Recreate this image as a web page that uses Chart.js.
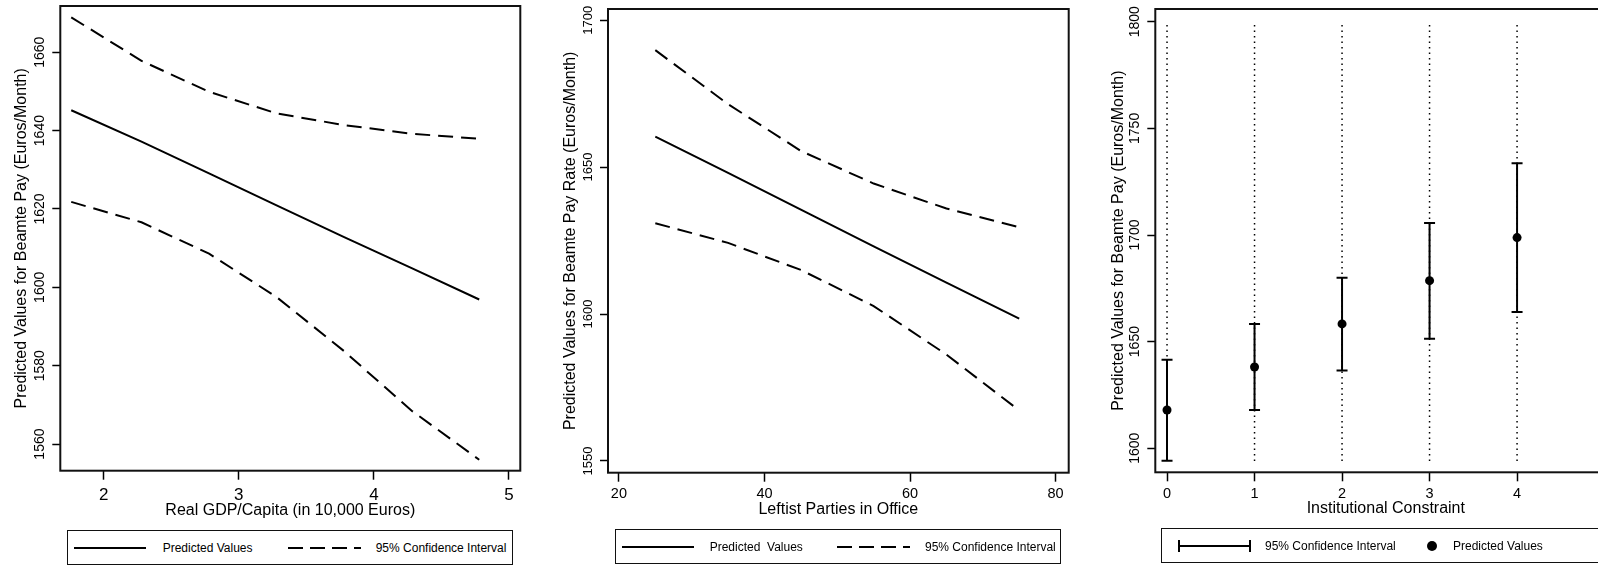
<!DOCTYPE html>
<html>
<head>
<meta charset="utf-8">
<title>Predicted Beamte Pay</title>
<script src="https://cdn.jsdelivr.net/npm/chart.js@4.4.1/dist/chart.umd.min.js"></script>
<style>
  body { margin: 0; width: 1598px; height: 565px; overflow: hidden; background: #fff; position: relative;
         font-family: "Liberation Sans", Arial, sans-serif; color: #000; }
  canvas { position: absolute; top: 0; }
  .legend { position: absolute; box-sizing: border-box; border: 1.5px solid #111; background: #fff; height: 35px; }
  .legend span { position: absolute; top: 9.5px; font-size: 12px; line-height: 14px; white-space: pre; }
  .solid, .dashed { position: absolute; top: 16px; height: 2px; }
  .solid { background: #000; }
  .dashed { background: repeating-linear-gradient(to right, #000 0 15px, transparent 15px 22px); }
  .ebar { position: absolute; top: 11px; height: 12px; box-sizing: border-box; border-left: 2px solid #000; border-right: 2px solid #000; }
  .ebar::after { content: ""; position: absolute; left: 0; right: 0; top: 5px; height: 2px; background: #000; }
  .dot { position: absolute; top: 12px; width: 10px; height: 10px; border-radius: 50%; background: #000; }
</style>
</head>
<body>
<canvas id="gdpChart" width="530" height="565" style="left:0"></canvas>
<canvas id="leftChart" width="540" height="565" style="left:530px"></canvas>
<canvas id="conChart" width="560" height="565" style="left:1070px"></canvas>

<div class="legend" style="left:66.7px; top:530px; width:446.6px">
  <div class="solid" style="left:6.8px; width:72px"></div><span style="left:95px">Predicted Values</span>
  <div class="dashed" style="left:220.8px; width:72.7px"></div><span style="left:308px">95% Confidence Interval</span>
</div>
<div class="legend" style="left:614.5px; top:529px; width:446.5px">
  <div class="solid" style="left:6px; width:72.6px"></div><span style="left:94.2px">Predicted  Values</span>
  <div class="dashed" style="left:221.6px; width:72.7px"></div><span style="left:309.5px">95% Confidence Interval</span>
</div>
<div class="legend" style="left:1161px; top:528px; width:460px">
  <div class="ebar" style="left:16.3px; width:73px"></div><span style="left:103px">95% Confidence Interval</span>
  <div class="dot" style="left:265px"></div><span style="left:291px">Predicted Values</span>
</div>

<script>
const FONT = '"Liberation Sans", Arial, sans-serif';

// panel 1: real GDP per capita
const gdp = [1.76, 2.28, 2.78, 3.28, 3.78, 4.28, 4.78];
const gdpPred = [1645.2, 1637.2, 1629.1, 1620.9, 1612.8, 1604.9, 1596.9];
const gdpUpper = [1668.9, 1657.8, 1649.9, 1644.4, 1641.4, 1639.2, 1637.9];
const gdpLower = [1621.8, 1616.6, 1608.6, 1597.5, 1583.7, 1568.5, 1556.0];
const gdpXTicks = [2, 3, 4, 5];
const gdpYTicks = [1560, 1580, 1600, 1620, 1640, 1660];

// panel 2: leftist parties in office
const leftist = [25, 35, 45, 55, 65, 75];
const leftPred = [1660.4, 1648.0, 1635.5, 1623.0, 1610.7, 1598.4];
const leftUpper = [1689.8, 1671.4, 1655.5, 1644.4, 1635.9, 1629.5];
const leftLower = [1630.9, 1624.2, 1615.0, 1602.7, 1586.2, 1567.2];
const leftXTicks = [20, 40, 60, 80];
const leftYTicks = [1550, 1600, 1650, 1700];

// panel 3: institutional constraint
const constraint = [0, 1, 2, 3, 4];
const conPred = [1617.9, 1638.1, 1658.3, 1678.6, 1698.8];
const conUpper = [1641.5, 1658.3, 1679.9, 1705.6, 1733.6];
const conLower = [1594.1, 1617.9, 1636.4, 1651.3, 1663.9];
const guideSpan = [1594, 1800];
const conXTicks = [0, 1, 2, 3, 4];
const conYTicks = [1600, 1650, 1700, 1750, 1800];

const pts = (xs, ys) => xs.map((x, i) => ({ x: x, y: ys[i] }));
const spans = (xs, lo, hi) =>
  xs.flatMap((x, i) => [{ x: x, y: lo[i] }, { x: x, y: hi[i] }, { x: x, y: null }]);

// box around the plot + y tick labels turned on their side (Stata style)
const framePlugin = {
  id: "frame",
  afterDraw(chart, args, opts) {
    const { ctx, chartArea: a } = chart;
    const y = chart.scales.y;
    ctx.save();
    ctx.lineWidth = 2;
    ctx.strokeStyle = "#111";
    ctx.strokeRect(a.left, a.top, a.right - a.left, a.bottom - a.top);
    ctx.fillStyle = "#000";
    ctx.font = opts.size + "px " + FONT;
    ctx.textAlign = "center";
    ctx.textBaseline = "middle";
    y.ticks.forEach((t) => {
      ctx.save();
      ctx.translate(a.left - 20, y.getPixelForValue(t.value));
      ctx.rotate(-Math.PI / 2);
      ctx.fillText(String(t.value), 0, 0);
      ctx.restore();
    });
    ctx.restore();
  },
};

function makeChart(id, p, datasets) {
  const H = 565;
  const ctx = document.getElementById(id).getContext("2d");
  return new Chart(ctx, {
    type: "line",
    data: { datasets: datasets },
    plugins: [framePlugin],
    options: {
      responsive: false,
      animation: false,
      events: [],
      layout: { padding: { left: 0, top: p.top, right: p.right, bottom: 0 } },
      plugins: {
        legend: { display: false },
        tooltip: { enabled: false },
        frame: { size: p.yTickSize },
      },
      scales: {
        x: {
          type: "linear",
          min: p.xMin,
          max: p.xMax,
          afterBuildTicks: (s) => { s.ticks = p.xTicks.map((v) => ({ value: v })); },
          afterFit: (s) => { s.height = H - p.bottom; },
          border: { display: false },
          grid: { drawOnChartArea: false, tickLength: 9, tickColor: "#000", tickWidth: 1.5 },
          ticks: {
            color: "#000",
            autoSkip: false,
            maxRotation: 0,
            padding: p.xTickPad,
            font: { family: FONT, size: p.xTickSize },
            callback: (v) => String(v),
          },
          title: {
            display: true,
            text: p.xTitle,
            color: "#000",
            font: { family: FONT, size: 16 },
            padding: { top: 0, bottom: H - p.xTitleY - 16 * 0.6 },
          },
        },
        y: {
          type: "linear",
          min: p.yMin,
          max: p.yMax,
          afterBuildTicks: (s) => { s.ticks = p.yTicks.map((v) => ({ value: v })); },
          afterFit: (s) => { s.width = p.left; },
          border: { display: false },
          grid: { drawOnChartArea: false, tickLength: 8, tickColor: "#000", tickWidth: 1.5 },
          ticks: { display: false },
          title: {
            display: true,
            text: p.yTitle,
            color: "#000",
            font: { family: FONT, size: 16 },
            padding: { top: p.yTitleX - 16 * 0.6, bottom: 0 },
          },
        },
      },
    },
  });
}

const solid = { borderColor: "#000", borderWidth: 2, pointRadius: 0, tension: 0, fill: false };
const dashed = Object.assign({}, solid, { borderDash: [15, 8] });

makeChart("gdpChart", {
  left: 60.3, right: 9.7, top: 6, bottom: 470.7,
  xMin: 1.679, xMax: 5.084, yMin: 1553.2, yMax: 1671.8,
  xTicks: gdpXTicks, yTicks: gdpYTicks,
  xTickSize: 17, xTickPad: 5, yTickSize: 14,
  xTitle: "Real GDP/Capita (in 10,000 Euros)", xTitleY: 511,
  yTitle: "Predicted Values for Beamte Pay (Euros/Month)", yTitleX: 22,
}, [
  Object.assign({ label: "Predicted Values", data: pts(gdp, gdpPred) }, solid),
  Object.assign({ label: "95% Confidence Interval", data: pts(gdp, gdpUpper) }, dashed),
  Object.assign({ label: "95% Confidence Interval", data: pts(gdp, gdpLower) }, dashed),
]);

makeChart("leftChart", {
  left: 78, right: 1.3, top: 9, bottom: 472.7,
  xMin: 18.5, xMax: 81.8, yMin: 1546.0, yMax: 1703.8,
  xTicks: leftXTicks, yTicks: leftYTicks,
  xTickSize: 14.5, xTickPad: 3.6, yTickSize: 13,
  xTitle: "Leftist Parties in Office", xTitleY: 510,
  yTitle: "Predicted Values for Beamte Pay Rate (Euros/Month)", yTitleX: 40.6,
}, [
  Object.assign({ label: "Predicted  Values", data: pts(leftist, leftPred) }, solid),
  Object.assign({ label: "95% Confidence Interval", data: pts(leftist, leftUpper) }, dashed),
  Object.assign({ label: "95% Confidence Interval", data: pts(leftist, leftLower) }, dashed),
]);

makeChart("conChart", {
  left: 85.3, right: 13.7, top: 9, bottom: 472.3,
  xMin: -0.134, xMax: 5.134, yMin: 1588.7, yMax: 1806,
  xTicks: conXTicks, yTicks: conYTicks,
  xTickSize: 14.5, xTickPad: 4, yTickSize: 14,
  xTitle: "Institutional Constraint", xTitleY: 509,
  yTitle: "Predicted Values for Beamte Pay (Euros/Month)", yTitleX: 48.6,
}, [
  {
    label: "Predicted Values",
    data: pts(constraint, conPred),
    showLine: false,
    pointRadius: 4.5,
    pointBackgroundColor: "#000",
    pointBorderColor: "#000",
    pointBorderWidth: 0,
  },
  {
    label: "95% Confidence Interval",
    data: spans(constraint, conLower, conUpper),
    borderColor: "#000",
    borderWidth: 2,
    spanGaps: false,
    pointStyle: "line",
    pointRadius: 5.5,
    pointBorderColor: "#000",
    pointBorderWidth: 2,
  },
  {
    label: "guide",
    data: spans(constraint, constraint.map(() => guideSpan[0]), constraint.map(() => guideSpan[1])),
    borderColor: "#000",
    borderWidth: 1.5,
    borderDash: [1.5, 4],
    spanGaps: false,
    pointRadius: 0,
  },
]);
</script>
</body>
</html>
